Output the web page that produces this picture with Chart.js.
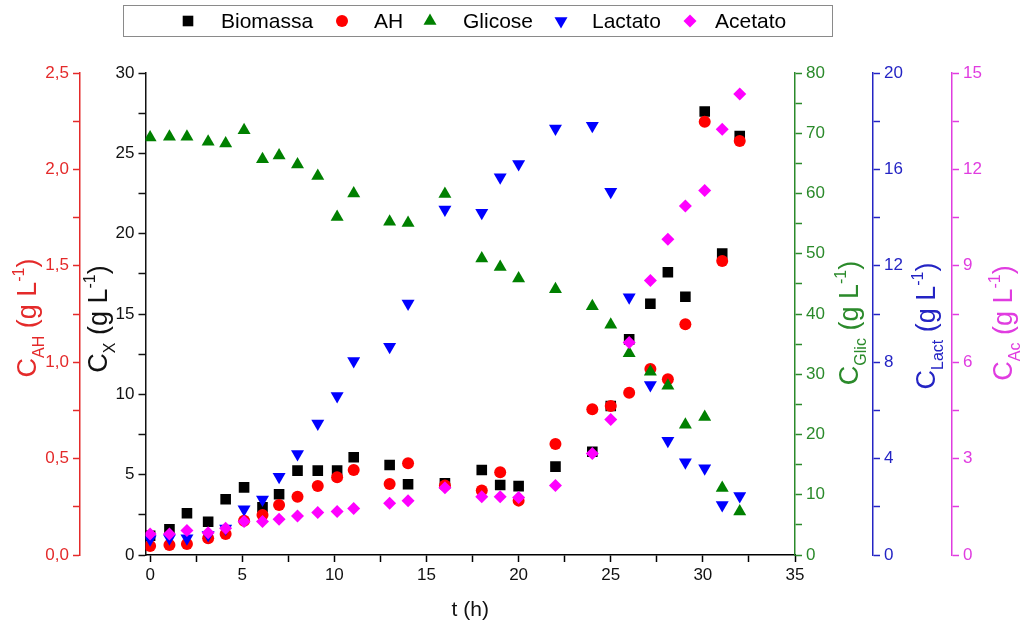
<!DOCTYPE html>
<html>
<head>
<meta charset="utf-8">
<title>Cinética da fermentação</title>
<script src="https://cdn.jsdelivr.net/npm/chart.js"></script>
<style>
  html, body { margin: 0; padding: 0; background: #fff; }
  #wrap { width: 1023px; height: 627px; }
</style>
</head>
<body>
<div id="wrap"><canvas id="chart"></canvas></div>
<script>
// Sampling times (h) and concentrations (g/L)
const tempo    = [0, 1.05, 2, 3.15, 4.1, 5.1, 6.1, 7, 8, 9.1, 10.15, 11.05, 13, 14, 16, 18, 19, 20, 22, 24, 25, 26, 27.15, 28.1, 29.05, 30.1, 31.05, 32];
const biomassa = [1.2, 1.6, 2.6, 2.07, 3.47, 4.21, 2.97, 3.78, 5.25, 5.25, 5.25, 6.08, 5.6, 4.4, 4.46, 5.29, 4.36, 4.29, 5.5, 6.43, 9.27, 13.42, 15.64, 17.6, 16.07, 27.6, 18.77, 26.07];
const ah       = [0.047, 0.052, 0.057, 0.087, 0.109, 0.178, 0.207, 0.259, 0.302, 0.358, 0.403, 0.441, 0.368, 0.476, 0.36, 0.334, 0.429, 0.282, 0.576, 0.756, 0.773, 0.842, 0.965, 0.911, 1.197, 2.247, 1.525, 2.147];
const glicose  = [69.3, 69.4, 69.4, 68.6, 68.3, 70.5, 65.7, 66.3, 64.8, 62.9, 56.1, 60.0, 55.3, 55.1, 59.9, 49.2, 47.8, 45.9, 44.1, 41.3, 38.2, 33.5, 30.4, 28.1, 21.6, 22.9, 11.1, 7.2];
const lactato  = [0.65, 0.69, 0.69, 0.83, 1.1, 1.9, 2.3, 3.25, 4.19, 5.46, 6.6, 8.05, 8.64, 10.44, 14.34, 14.2, 15.67, 16.22, 17.7, 17.81, 15.07, 10.69, 7.05, 4.74, 3.85, 3.6, 2.07, 2.45];
const acetato  = [0.65, 0.65, 0.76, 0.69, 0.83, 1.04, 1.04, 1.11, 1.21, 1.32, 1.35, 1.45, 1.61, 1.69, 2.09, 1.81, 1.81, 1.79, 2.16, 3.16, 4.22, 6.61, 8.54, 9.83, 10.86, 11.34, 13.25, 14.35];

// Labelled (major) ticks of each axis
const xTicks    = [0, 5, 10, 15, 20, 25, 30, 35];
const cxTicks   = [0, 5, 10, 15, 20, 25, 30];
const ahTicks   = [0, 0.5, 1, 1.5, 2, 2.5];
const glicTicks = [0, 10, 20, 30, 40, 50, 60, 70, 80];
const lactTicks = [0, 4, 8, 12, 16, 20];
const acTicks   = [0, 3, 6, 9, 12, 15];

Chart.defaults.font.family = "Arial, 'Liberation Sans', sans-serif";

// Major ticks plus an unlabelled minor tick halfway between them
function withMinor(major) {
    const out = [];
    major.forEach((v, i) => {
        out.push(v);
        if (i < major.length - 1) out.push((v + major[i + 1]) / 2);
    });
    return out;
}

function isMajor(v, major) {
    return major.some(m => Math.abs(m - v) < 1e-6);
}

function pts(values) {
    return tempo.map((t, i) => ({ x: t, y: values[i] }));
}

function yAxis(position, weight, min, max, major, color, width, fmt) {
    return {
        type: 'linear',
        position,
        weight,
        min,
        max,
        afterBuildTicks: s => { s.ticks = withMinor(major).map(v => ({ value: v })); },
        afterFit: s => { s.width = width; },
        grid: { drawOnChartArea: false, color, tickLength: 7, tickWidth: 1.5 },
        border: { color, width: 1.5 },
        ticks: {
            color,
            font: { size: 17 },
            padding: 4,
            autoSkip: false,
            callback: v => isMajor(v, major) ? fmt(v) : ''
        }
    };
}

const RED = '#e42a2a', GREEN = '#2b8a2b', BLUE = '#2424c4', MAGENTA = '#e03ce0';

// Rotated axis titles like "C_AH (g L^-1)" with sub/superscript
const axisTitles = [
    { id: 'yAh',   sub: 'AH',   color: RED,     dx: 26, dy: 4 },
    { id: 'yCx',   sub: 'X',    color: '#111',  dx: 17, dy: 5 },
    { id: 'yGlic', sub: 'Glic', color: GREEN,   dx: 53, dy: 9 },
    { id: 'yLact', sub: 'Lact', color: BLUE,    dx: 52, dy: 12 },
    { id: 'yAc',   sub: 'Ac',   color: MAGENTA, dx: 50, dy: 9 }
];

function drawRotTitle(ctx, cx, cy, sub, color, size) {
    const small = Math.round(size * 0.6);
    const parts = [
        { t: 'C', f: size, dy: 0 },
        { t: sub, f: small, dy: size * 0.3 },
        { t: ' (g L', f: size, dy: 0 },
        { t: '-1', f: small, dy: -size * 0.42 },
        { t: ')', f: size, dy: 0 }
    ];
    let total = 0;
    parts.forEach(p => {
        ctx.font = `${p.f}px Arial, 'Liberation Sans', sans-serif`;
        p.w = ctx.measureText(p.t).width;
        total += p.w;
    });
    ctx.save();
    ctx.translate(cx, cy);
    ctx.rotate(-Math.PI / 2);
    ctx.fillStyle = color;
    ctx.textBaseline = 'alphabetic';
    ctx.textAlign = 'left';
    let x = -total / 2;
    parts.forEach(p => {
        ctx.font = `${p.f}px Arial, 'Liberation Sans', sans-serif`;
        ctx.fillText(p.t, x, size * 0.36 + p.dy);
        x += p.w;
    });
    ctx.restore();
}

const titlePlugin = {
    id: 'axisTitles',
    afterDraw(chart) {
        const ctx = chart.ctx;
        const area = chart.chartArea;
        const cy = (area.top + area.bottom) / 2;
        axisTitles.forEach(a => {
            const s = chart.scales[a.id];
            drawRotTitle(ctx, s.left + a.dx, cy + a.dy, a.sub, a.color, 27);
        });
    }
};

// Boxed legend at the top
const legendMarkers = [188, 342, 430, 561, 690];
const legendTexts   = [221, 374, 463, 592, 715];

const legendPlugin = {
    id: 'boxLegend',
    afterDraw(chart) {
        const ctx = chart.ctx;
        ctx.save();
        ctx.strokeStyle = '#8a8a8a';
        ctx.lineWidth = 1;
        ctx.strokeRect(123.5, 5.5, 709, 31);
        const cy = 21;
        chart.data.datasets.forEach((ds, i) => {
            ctx.fillStyle = ds.backgroundColor;
            ctx.strokeStyle = ds.borderColor;
            Chart.helpers.drawPoint(ctx, {
                pointStyle: ds.pointStyle,
                rotation: ds.pointRotation || 0,
                radius: ds.pointRadius,
                borderWidth: 0
            }, legendMarkers[i], cy);
            ctx.fillStyle = '#000';
            ctx.font = "21px Arial, 'Liberation Sans', sans-serif";
            ctx.textBaseline = 'middle';
            ctx.textAlign = 'left';
            ctx.fillText(ds.label, legendTexts[i], cy + 1);
        });
        ctx.restore();
    }
};

new Chart(document.getElementById('chart'), {
    type: 'scatter',
    data: {
        datasets: [
            { label: 'Biomassa', data: pts(biomassa), yAxisID: 'yCx', pointStyle: 'rect', pointRadius: 7.5,
              backgroundColor: '#000', borderColor: '#000', borderWidth: 0, order: 5 },
            { label: 'AH', data: pts(ah), yAxisID: 'yAh', pointStyle: 'circle', pointRadius: 6,
              backgroundColor: '#ff0000', borderColor: '#ff0000', borderWidth: 0, order: 4 },
            { label: 'Glicose', data: pts(glicose), yAxisID: 'yGlic', pointStyle: 'triangle', pointRadius: 7.5,
              backgroundColor: '#008000', borderColor: '#008000', borderWidth: 0, order: 3 },
            { label: 'Lactato', data: pts(lactato), yAxisID: 'yLact', pointStyle: 'triangle', pointRotation: 180, pointRadius: 7.5,
              backgroundColor: '#0000ff', borderColor: '#0000ff', borderWidth: 0, order: 2 },
            { label: 'Acetato', data: pts(acetato), yAxisID: 'yAc', pointStyle: 'rectRot', pointRadius: 6.5,
              backgroundColor: '#ff00ff', borderColor: '#ff00ff', borderWidth: 0, order: 1 }
        ]
    },
    options: {
        responsive: true,
        maintainAspectRatio: false,
        animation: false,
        events: [],
        layout: { padding: { top: 73, left: 0, right: 0, bottom: 0 } },
        plugins: {
            legend: { display: false },
            tooltip: { enabled: false }
        },
        scales: {
            x: {
                type: 'linear',
                position: 'bottom',
                min: -0.25,
                max: 35,
                afterBuildTicks: s => { s.ticks = withMinor(xTicks).map(v => ({ value: v })); },
                afterFit: s => { s.height = 72; },
                grid: { drawOnChartArea: false, color: '#000', tickLength: 7, tickWidth: 1.5 },
                border: { color: '#000', width: 1.5 },
                ticks: {
                    color: '#111',
                    font: { size: 17 },
                    padding: 3,
                    autoSkip: false,
                    maxRotation: 0,
                    callback: v => isMajor(v, xTicks) ? String(v) : ''
                },
                title: { display: true, text: 't (h)', color: '#111', font: { size: 21 }, padding: { top: 0, bottom: 4 } }
            },
            yAh:   yAxis('left', 2, 0, 2.5, ahTicks, RED, 80, v => v.toFixed(1).replace('.', ',')),
            yCx:   yAxis('left', 1, 0, 30, cxTicks, '#111', 65.5, v => String(v)),
            yGlic: yAxis('right', 1, 0, 80, glicTicks, GREEN, 78, v => String(v)),
            yLact: yAxis('right', 2, 0, 20, lactTicks, BLUE, 79, v => String(v)),
            yAc:   yAxis('right', 3, 0, 15, acTicks, MAGENTA, 71, v => String(v))
        }
    },
    plugins: [titlePlugin, legendPlugin]
});
</script>
</body>
</html>
